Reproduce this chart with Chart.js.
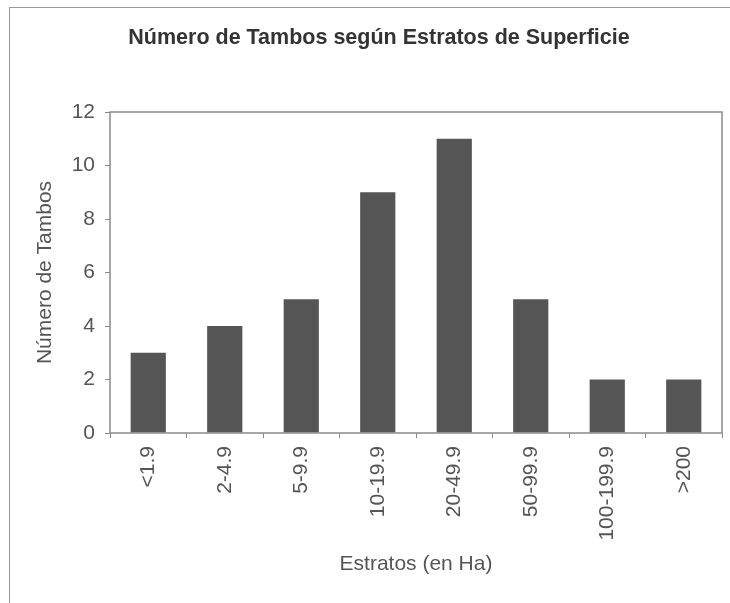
<!DOCTYPE html>
<html>
<head>
<meta charset="utf-8">
<script src="https://cdn.jsdelivr.net/npm/chart.js@4/dist/chart.umd.min.js"></script>
<style>
  body { margin: 0; background: #fff; }
  #frame { position: absolute; left: 9px; top: 7px; width: 740px; height: 610px; border: 1px solid #9a9a9a; }
  #myChart { position: absolute; left: 0; top: 0; }
</style>
</head>
<body>
<div id="frame"></div>
<canvas id="myChart" width="730" height="603"></canvas>
<script>
'use strict';

let estratos = ["<1.9", "2-4.9", "5-9.9", "10-19.9", "20-49.9", "50-99.9", "100-199.9", ">200"];
let tambos = [3, 4, 5, 9, 11, 5, 2, 2];
let yMax = 12;
let yStep = 2;

let chartTitle = "Número de Tambos según Estratos de Superficie";
let yTitle = "Número de Tambos";
let xTitle = "Estratos (en Ha)";

let textFont = 'Liberation Sans, Arial';

// box around the plot area + the title (centred on the frame, not the canvas)
let plotBox = {
    id: 'plotBox',
    afterDraw(chart) {
        let ctx = chart.ctx;
        let a = chart.chartArea;
        ctx.save();
        ctx.strokeStyle = '#8a8a8a';
        ctx.lineWidth = 1.5;
        ctx.strokeRect(a.left, a.top, a.right - a.left, a.bottom - a.top);

        ctx.fillStyle = '#333';
        ctx.font = 'bold 21.5px ' + textFont;
        ctx.textAlign = 'center';
        ctx.textBaseline = 'middle';
        ctx.fillText(chartTitle, 379, 38);
        ctx.restore();
    }
};

let ctx = document.getElementById('myChart').getContext('2d');
let chart = new Chart(ctx, {
    type: 'bar',
    data: {
        labels: estratos,
        datasets: [{
            label: yTitle,
            data: tambos,
            backgroundColor: '#555555',
            borderWidth: 0,
            barPercentage: 0.46,
            categoryPercentage: 1
        }]
    },
    options: {
        responsive: false,
        animation: false,
        layout: { padding: { left: 0, right: 8, top: 112, bottom: 0 } },
        plugins: {
            legend: { display: false },
            tooltip: { enabled: false },
            title: { display: false }
        },
        scales: {
            x: {
                grid: { drawOnChartArea: false, drawTicks: true, tickLength: 5, color: '#8a8a8a', offset: true },
                border: { display: false },
                ticks: {
                    color: '#555',
                    font: { family: textFont, size: 21 },
                    minRotation: 90,
                    maxRotation: 90,
                    padding: 8,
                    autoSkip: false
                },
                title: {
                    display: true,
                    text: xTitle,
                    color: '#555',
                    font: { family: textFont, size: 21, lineHeight: 1.2 },
                    padding: { top: 0, bottom: 26 }
                },
                afterFit(scale) { scale.height = 170; }
            },
            y: {
                min: 0,
                max: yMax,
                ticks: {
                    stepSize: yStep,
                    color: '#555',
                    font: { family: textFont, size: 21 },
                    padding: 10
                },
                grid: { drawOnChartArea: false, drawTicks: true, tickLength: 5, color: '#8a8a8a' },
                border: { display: false },
                title: {
                    display: true,
                    text: yTitle,
                    color: '#555',
                    font: { family: textFont, size: 21, lineHeight: 1.2 },
                    padding: { top: 33, bottom: 0 }
                },
                afterFit(scale) { scale.width = 110; }
            }
        }
    },
    plugins: [plotBox]
});
</script>
</body>
</html>
